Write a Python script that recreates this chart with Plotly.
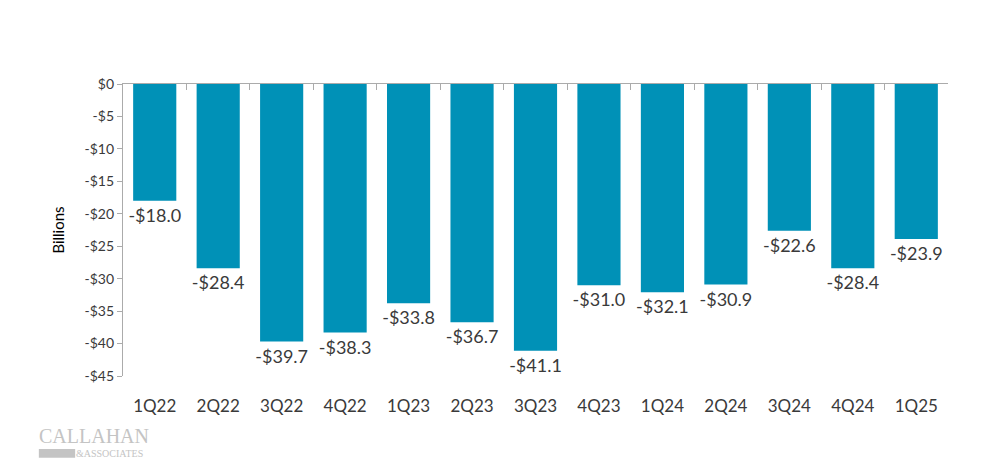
import plotly.graph_objects as go

quarters = ["1Q22", "2Q22", "3Q22", "4Q22", "1Q23", "2Q23", "3Q23",
            "4Q23", "1Q24", "2Q24", "3Q24", "4Q24", "1Q25"]
values = [-18.0, -28.4, -39.7, -38.3, -33.8, -36.7, -41.1,
          -31.0, -32.1, -30.9, -22.6, -28.4, -23.9]
y_ticks = [0, -5, -10, -15, -20, -25, -30, -35, -40, -45]
y_tick_labels = ["$0", "-$5", "-$10", "-$15", "-$20", "-$25", "-$30",
                 "-$35", "-$40", "-$45"]

labels = [("-$%.1f" % abs(v)) if v < 0 else ("$%.1f" % v) for v in values]

BAR = "#0091B7"
AX = "#ABABAB"
FONT = "Lato, 'Open Sans', sans-serif"
TXT = "#3A3A3A"

fig = go.Figure()
fig.add_trace(go.Bar(
    x=quarters, y=values, marker=dict(color=BAR, line=dict(width=0)),
    width=0.68, text=labels, textposition="outside", cliponaxis=False,
    constraintext="none",
    textfont=dict(size=18, color=TXT, family=FONT),
    hoverinfo="skip", showlegend=False,
))
# invisible trace to carry the top axis (zero line with boundary ticks)
fig.add_trace(go.Scatter(
    x=quarters, y=[0] * len(quarters), xaxis="x2", mode="markers",
    marker=dict(opacity=0), hoverinfo="skip", showlegend=False,
))

fig.update_layout(
    width=1000, height=470,
    margin=dict(l=123, r=52, t=84, b=94),
    paper_bgcolor="white", plot_bgcolor="white",
    font=dict(family=FONT, color=TXT),
    xaxis=dict(
        type="category", categoryorder="array", categoryarray=quarters,
        showline=False, showgrid=False, ticks="", ticklabelstandoff=18,
        tickfont=dict(size=17, color=TXT), range=[-0.5, 12.5],
        automargin=False,
    ),
    xaxis2=dict(
        type="category", categoryorder="array", categoryarray=quarters,
        overlaying="x", side="top", anchor="y",
        showline=True, linecolor=AX, linewidth=1.3, mirror=False,
        showgrid=False, ticks="inside", tickson="boundaries", ticklen=6,
        tickcolor=AX, showticklabels=False, range=[-0.5, 12.5],
        automargin=False,
    ),
    yaxis=dict(
        range=[-45, 0], tickvals=y_ticks, ticktext=y_tick_labels,
        showline=True, linecolor=AX, linewidth=1.3, ticks="outside",
        ticklen=5, tickcolor=AX, showgrid=False, zeroline=False,
        tickfont=dict(size=14, color=TXT), automargin=False,
        title=dict(text="Billions", font=dict(size=15, color="#000000"),
                   standoff=16),
    ),
)

# logo
LOGO = "#C4C4C4"
fig.add_annotation(
    text="CALLAHAN", xref="paper", yref="paper", x=-0.104, y=-0.205,
    xanchor="left", yanchor="middle", showarrow=False,
    font=dict(family="'Liberation Serif', serif", size=20, color=LOGO),
)
fig.add_shape(type="rect", xref="paper", yref="paper",
              x0=-0.102, x1=-0.058, y0=-0.280, y1=-0.250,
              fillcolor=LOGO, line=dict(width=0))
fig.add_annotation(
    text="&amp;ASSOCIATES", xref="paper", yref="paper", x=-0.060, y=-0.266,
    xanchor="left", yanchor="middle", showarrow=False,
    font=dict(family="'Liberation Serif', serif", size=10, color=LOGO),
)

fig.write_html(
    "out.html",
    config={"displayModeBar": False},
    post_script="document.body.style.margin='0';"
                "document.body.style.overflow='hidden';",
)
